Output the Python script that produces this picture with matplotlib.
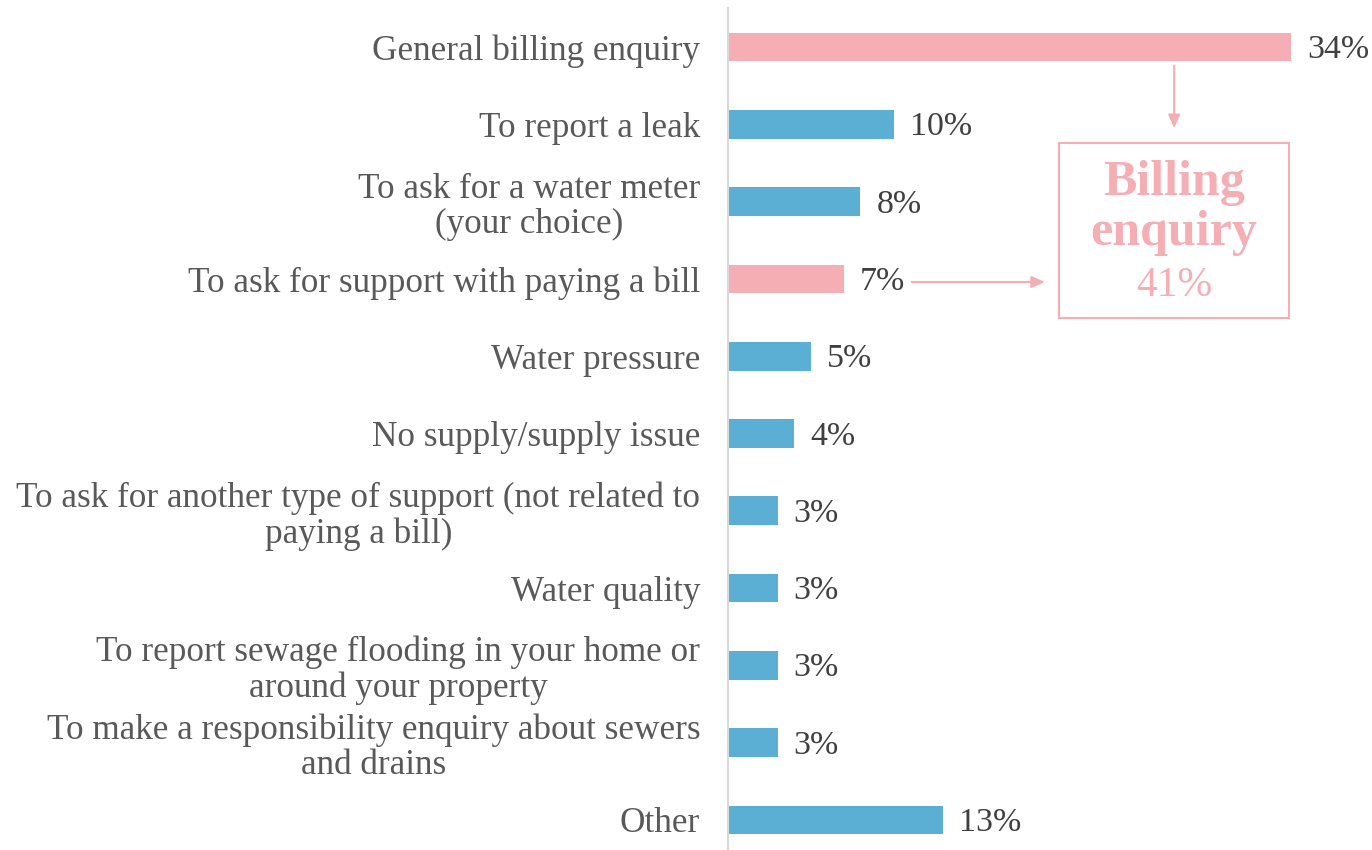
import matplotlib
matplotlib.use("Agg")
import matplotlib.pyplot as plt
from matplotlib.patches import Rectangle

# Reasons for contact, top to bottom
categories = [
    "General billing enquiry",
    "To report a leak",
    "To ask for a water meter\n(your choice)",
    "To ask for support with paying a bill",
    "Water pressure",
    "No supply/supply issue",
    "To ask for another type of support (not related to\npaying a bill)",
    "Water quality",
    "To report sewage flooding in your home or\naround your property",
    "To make a responsibility enquiry about sewers\nand drains",
    "Other",
]
values = [34, 10, 8, 7, 5, 4, 3, 3, 3, 3, 13]
is_billing = [True, False, False, True, False, False, False, False, False, False, False]
billing_total = 41
billing_title = ["Billing", "enquiry"]

PINK = "#F4AEB4"
BLUE = "#5BAED4"
LABEL_GREY = "#595959"
VALUE_GREY = "#404040"
AXIS_GREY = "#D9D9D9"
FONT = ["Liberation Serif", "DejaVu Serif"]

W, H = 1372, 850
fig = plt.figure(figsize=(W / 100, H / 100), dpi=100)
fig.patch.set_facecolor("white")

# axes placement in pixels
ax_left, ax_right = 728, 1372
ax_top, ax_bottom = 8.4, 858.6
ax = fig.add_axes([ax_left / W, 1 - ax_bottom / H,
                   (ax_right - ax_left) / W, (ax_bottom - ax_top) / H])
ax.set_facecolor("none")

ypos = list(range(len(categories)))
colors = [PINK if b else BLUE for b in is_billing]
ax.barh(ypos, values, height=0.37, color=colors, edgecolor="none")

ax.set_xlim(0, 38.9)
ax.set_ylim(len(categories) - 0.5, -0.5)

for s in ("top", "right", "bottom"):
    ax.spines[s].set_visible(False)
ax.spines["left"].set_color(AXIS_GREY)
ax.spines["left"].set_linewidth(1.5)
ax.set_xticks([])
ax.set_yticks(ypos)
ax.set_yticklabels(categories, fontsize=25.3, color=LABEL_GREY, family=FONT,
                   linespacing=1.1)
ax.tick_params(axis="y", length=0, pad=20)
for lab in ax.get_yticklabels():
    lab.set_multialignment("center")

# value labels at the end of each bar
for y, v in zip(ypos, values):
    ax.annotate(f"{v}%", xy=(v, y), xytext=(11.5, -8), textcoords="offset points",
                ha="left", va="baseline", fontsize=24.5, color=VALUE_GREY, family=FONT)

# billing call-out box
box_x0, box_x1 = 20.0, 33.9
box_y0, box_y1 = 1.24, 3.51
ax.add_patch(Rectangle((box_x0, box_y0), box_x1 - box_x0, box_y1 - box_y0,
                       fill=False, edgecolor=PINK, linewidth=1.5, clip_on=False))
cx = (box_x0 + box_x1) / 2
for line, yb in zip(billing_title, (1.92, 2.56)):
    ax.text(cx, yb, line, ha="center", va="baseline", fontsize=36,
            fontweight="bold", color=PINK, family=FONT)
ax.text(cx, 3.22, f"{billing_total}%", ha="center", va="baseline", fontsize=30,
        color=PINK, family=FONT)

arrow_style = dict(arrowstyle="-|>,head_length=0.8,head_width=0.35",
                   color=PINK, lw=1.5, shrinkA=0, shrinkB=0)
# from the general billing bar down to the box
ax.annotate("", xy=(cx, 1.05), xytext=(cx, 0.24), arrowprops=arrow_style)
# from the bill-support bar across to the box
ax.annotate("", xy=(19.15, 3.04), xytext=(11.1, 3.04), arrowprops=arrow_style)

fig.savefig("out.png", dpi=100, facecolor="white")
